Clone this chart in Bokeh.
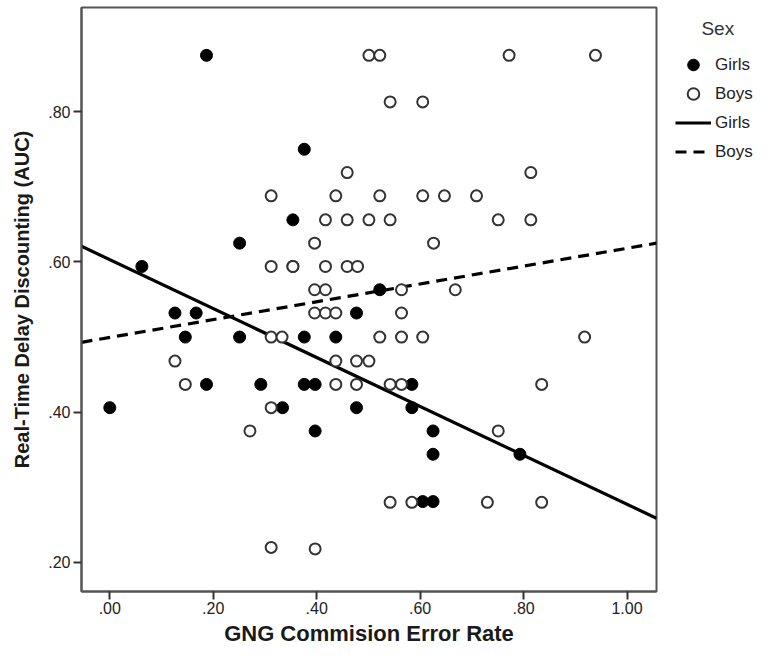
from bokeh.plotting import figure
from bokeh.models import Legend, LegendItem, Range1d, FixedTicker
from bokeh.embed import file_html
from bokeh.resources import INLINE

# ---- data ----
girls_x = [0.000, 0.062, 0.187, 0.376, 0.354, 0.251, 0.522, 0.126, 0.167, 0.477,
           0.146, 0.251, 0.376, 0.437, 0.187, 0.292, 0.376, 0.397, 0.584, 0.334,
           0.477, 0.584, 0.397, 0.625, 0.625, 0.793, 0.605, 0.625]
girls_y = [0.406, 0.594, 0.875, 0.750, 0.656, 0.625, 0.563, 0.532, 0.532, 0.532,
           0.500, 0.500, 0.500, 0.500, 0.437, 0.437, 0.437, 0.437, 0.437, 0.406,
           0.406, 0.406, 0.375, 0.375, 0.344, 0.344, 0.281, 0.281]

boys_x = [0.312, 0.437, 0.459, 0.417, 0.459, 0.396, 0.312, 0.354, 0.354, 0.417,
          0.459, 0.479, 0.396, 0.417, 0.501, 0.522, 0.772, 0.939, 0.542, 0.605,
          0.814, 0.522, 0.605, 0.647, 0.709, 0.501, 0.542, 0.751, 0.814, 0.626,
          0.564, 0.668, 0.396, 0.417, 0.437, 0.312, 0.333, 0.126, 0.437, 0.477,
          0.501, 0.146, 0.437, 0.477, 0.312, 0.271, 0.312, 0.397, 0.564, 0.522,
          0.564, 0.605, 0.918, 0.542, 0.564, 0.835, 0.751, 0.542, 0.584, 0.730,
          0.835]
boys_y = [0.688, 0.688, 0.719, 0.656, 0.656, 0.625, 0.594, 0.594, 0.594, 0.594,
          0.594, 0.594, 0.563, 0.563, 0.875, 0.875, 0.875, 0.875, 0.813, 0.813,
          0.719, 0.688, 0.688, 0.688, 0.688, 0.656, 0.656, 0.656, 0.656, 0.625,
          0.563, 0.563, 0.532, 0.532, 0.532, 0.500, 0.500, 0.468, 0.468, 0.468,
          0.468, 0.437, 0.437, 0.437, 0.406, 0.375, 0.220, 0.218, 0.532, 0.500,
          0.500, 0.500, 0.500, 0.437, 0.437, 0.437, 0.375, 0.280, 0.280, 0.280,
          0.280]

# fit lines: intercept, slope
girls_intercept, girls_slope = 0.603, -0.3256
boys_intercept, boys_slope = 0.4995, 0.1187

x_ticks = [0.0, 0.2, 0.4, 0.6, 0.8, 1.0]
x_tick_labels = [".00", ".20", ".40", ".60", ".80", "1.00"]
y_ticks = [0.2, 0.4, 0.6, 0.8]
y_tick_labels = [".20", ".40", ".60", ".80"]

x_lo, x_hi = -0.0547, 1.057
y_lo, y_hi = 0.1613, 0.9387

FONT = "Liberation Sans"
INK = "#1a1a1a"

p = figure(frame_width=575, frame_height=584, output_backend="svg", toolbar_location=None,
           x_range=Range1d(x_lo, x_hi), y_range=Range1d(y_lo, y_hi),
           min_border_left=81, min_border_right=97, min_border_top=7,
           min_border_bottom=56)
p.grid.visible = False
p.outline_line_color = "#555555"
p.outline_line_width = 2
p.background_fill_color = "white"
p.border_fill_color = "white"

for ax, ticks, labels in ((p.xaxis[0], x_ticks, x_tick_labels), (p.yaxis[0], y_ticks, y_tick_labels)):
    ax.ticker = FixedTicker(ticks=ticks)
    ax.major_label_overrides = {t: l for t, l in zip(ticks, labels)}
    ax.minor_tick_line_color = None
    ax.major_tick_in = 0
    ax.major_tick_out = 8
    ax.major_tick_line_width = 2
    ax.major_tick_line_color = "#333333"
    ax.axis_line_color = "#555555"
    ax.axis_line_width = 2
    ax.major_label_text_font = FONT
    ax.major_label_text_font_size = "16px"
    ax.major_label_text_color = "#222222"
    ax.axis_label_text_font = FONT
    ax.axis_label_text_font_style = "bold"
    ax.axis_label_text_color = INK

p.xaxis.axis_label = "GNG Commision Error Rate"
p.yaxis.axis_label = "Real-Time Delay Discounting (AUC)"
p.xaxis.axis_label_text_font_size = "22px"
p.yaxis.axis_label_text_font_size = "20px"
p.xaxis.major_label_standoff = 2
p.yaxis.major_label_standoff = 3
p.xaxis.axis_label_standoff = 4
p.yaxis.axis_label_standoff = 12

# fit lines
fx = [x_lo, x_hi]
g_line = p.line(fx, [girls_intercept + girls_slope * v for v in fx],
                line_color="black", line_width=3.2)
b_line = p.line(fx, [boys_intercept + boys_slope * v for v in fx],
                line_color="black", line_width=3.2, line_dash="11 7")

# points
g_pts = p.scatter(girls_x, girls_y, size=12, marker="circle",
                  fill_color="black", line_color="black", line_width=1)
b_pts = p.scatter(boys_x, boys_y, size=11, marker="circle",
                  fill_color="white", line_color="#333333", line_width=2)

legend = Legend(items=[
    LegendItem(label="Girls", renderers=[g_pts]),
    LegendItem(label="Boys", renderers=[b_pts]),
    LegendItem(label="Girls", renderers=[g_line]),
    LegendItem(label="Boys", renderers=[b_line]),
], location=(19, 425), title="\u00a0" * 5 + "Sex",
    title_text_font=FONT, title_text_font_size="19px", title_text_font_style="normal",
    title_text_color="#333333", title_standoff=10,
    label_text_font=FONT, label_text_font_size="17px", label_text_color="#222222",
    glyph_width=36, glyph_height=29, spacing=0, label_standoff=4, padding=0,
    margin=0, border_line_color=None, background_fill_alpha=0)
p.add_layout(legend, "right")

open("out.html", "w").write(file_html(p, INLINE))
